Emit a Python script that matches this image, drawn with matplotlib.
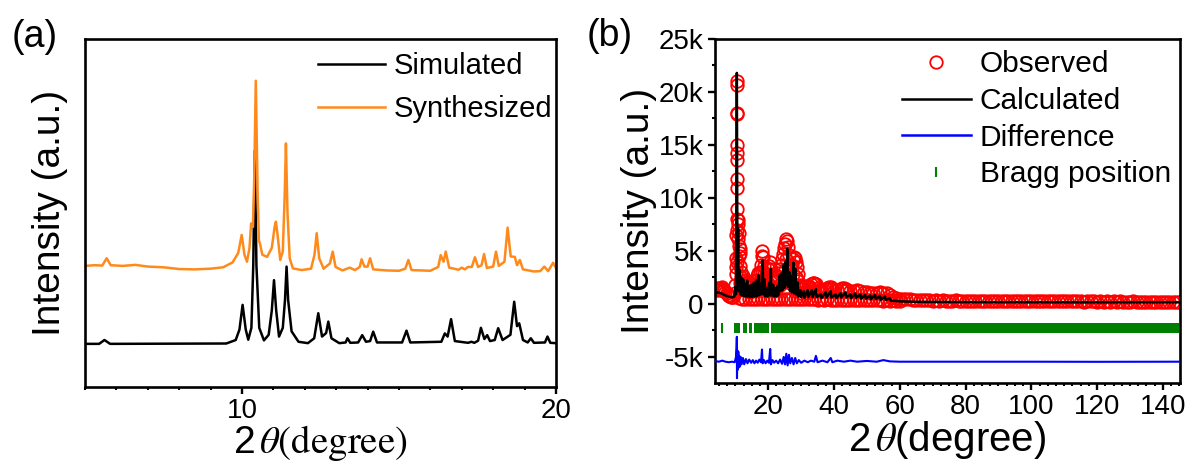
import numpy as np
import matplotlib
matplotlib.use('Agg')
import matplotlib.pyplot as plt
from matplotlib.ticker import MultipleLocator, FuncFormatter
from matplotlib.lines import Line2D

plt.rcParams['font.family'] = ['Liberation Sans', 'DejaVu Sans']
plt.rcParams['mathtext.fontset'] = 'stix'

### (a) PXRD, simulated vs synthesized (arbitrary units)
sim_x = [5.0, 5.45, 5.62, 5.8, 9.5, 9.8, 9.92, 10.02, 10.12, 10.2, 10.3, 10.36, 10.41, 10.46, 10.55,
         10.7, 10.85, 10.95, 11.02, 11.09, 11.18, 11.3, 11.37, 11.42, 11.47, 11.58, 11.8, 12.1, 12.3,
         12.43, 12.55, 12.68, 12.75, 12.85, 13.1, 13.3, 13.36, 13.45, 13.7, 13.83, 13.95, 14.08, 14.18,
         14.3, 15.1, 15.24, 15.36, 16.35, 16.46, 16.55, 16.66, 16.78, 17.2, 17.31, 17.4, 17.52, 17.61,
         17.72, 17.81, 17.9, 18.05, 18.16, 18.3, 18.55, 18.67, 18.76, 18.83, 18.95, 19.1, 19.2, 19.3,
         19.65, 19.73, 19.82, 20.0]
sim_y = [12.4, 12.4, 13.5, 12.4, 12.5, 13.5, 16.5, 23.6, 16.5, 13.6, 17.0, 35.0, 67.9, 35.0, 17.0,
         13.4, 15.0, 22.0, 30.7, 22.0, 14.5, 17.0, 25.0, 34.6, 25.0, 16.0, 13.0, 12.6, 14.0,
         21.2, 14.5, 15.5, 18.8, 14.0, 12.6, 12.8, 14.0, 12.7, 12.8, 14.9, 13.0, 13.2, 15.9,
         12.8, 12.8, 16.2, 12.8, 13.0, 15.4, 14.5, 19.5, 13.2, 12.7, 13.0, 12.7, 13.3, 17.0,
         13.8, 14.9, 13.2, 13.5, 16.9, 13.5, 15.0, 24.5, 17.5, 18.3, 13.5, 12.8, 14.0, 12.7,
         12.8, 14.5, 12.7, 12.6]

syn_x = [5.0, 5.3, 5.55, 5.69, 5.82, 6.2, 6.6, 7.0, 7.5, 8.0, 8.5, 9.0, 9.4, 9.7, 9.88, 9.99, 10.08,
         10.16, 10.24, 10.29, 10.35, 10.39, 10.44, 10.5, 10.54, 10.57, 10.65, 10.8, 10.95, 11.04, 11.08,
         11.13, 11.22, 11.3, 11.36, 11.4, 11.45, 11.52, 11.62, 11.9, 12.2, 12.31, 12.38, 12.46, 12.6,
         12.8, 12.89, 12.98, 13.2, 13.43, 13.6, 13.75, 13.81, 13.9, 14.0, 14.08, 14.18, 14.6, 15.0,
         15.2, 15.3, 15.4, 16.0, 16.25, 16.33, 16.42, 16.49, 16.6, 16.9, 17.0, 17.1, 17.2, 17.32,
         17.42, 17.52, 17.63, 17.71, 17.8, 18.0, 18.09, 18.18, 18.36, 18.46, 18.56, 18.69, 18.76,
         18.85, 18.95, 19.3, 19.5, 19.63, 19.75, 19.91, 20.0]
syn_y = [34.8, 35.0, 34.9, 37.0, 35.0, 34.8, 35.1, 34.6, 34.4, 33.9, 33.8, 34.0, 34.4, 35.8, 38.5, 43.7, 38.0,
         36.0, 40.0, 47.0, 46.0, 60.0, 88.0, 55.0, 42.0, 41.3, 38.0, 37.4, 40.0, 46.0, 47.5,
         44.0, 36.5, 39.0, 55.0, 70.0, 50.0, 37.0, 34.1, 33.6, 34.0, 38.0, 44.2, 37.0, 34.0,
         35.5, 38.9, 34.5, 33.5, 34.3, 33.6, 34.5, 36.7, 34.6, 34.6, 37.0, 33.8, 33.5, 33.4,
         34.0, 36.5, 33.6, 33.4, 34.5, 37.9, 36.0, 38.9, 34.3, 33.7, 34.3, 33.8, 34.5, 34.5,
         37.3, 34.5, 35.0, 38.2, 34.2, 34.6, 38.9, 34.8, 36.0, 45.8, 37.5, 37.4, 35.0,
         36.5, 33.8, 33.2, 33.3, 34.6, 33.3, 35.7, 34.2]

### (b) Rietveld refinement
obs_x = [4.0, 4.3, 4.6, 5.0, 5.4, 5.8, 6.2, 6.6, 7.0, 7.4, 7.8, 8.2, 8.6, 9.0, 9.4, 9.8, 10.0, 10.1,
         10.2, 10.3, 10.35, 10.4, 10.42, 10.44, 10.46, 10.48, 10.5, 10.52, 10.54, 10.56, 10.6, 10.65,
         10.7, 10.8, 10.9, 11.0, 11.1, 11.2, 11.3, 11.4, 11.5, 11.6, 11.8, 12.0, 12.3, 12.6, 13.0,
         13.4, 13.8, 14.2, 14.6, 15.0, 15.4, 15.8, 16.2, 16.6, 17.0, 17.4, 17.8, 18.0, 18.2, 18.4,
         18.6, 18.8, 19.0, 19.4, 19.8, 20.2, 20.6, 20.9, 21.2, 21.6, 22.0, 22.4, 22.8, 23.2, 23.6,
         24.0, 24.3, 24.6, 24.9, 25.2, 25.5, 25.8, 26.0, 26.2, 26.5, 26.8, 27.1, 27.4, 27.7, 28.0,
         28.3, 28.6, 28.9, 29.2, 29.6, 30.0, 30.5, 31.0, 31.5, 32.0, 32.5, 33.0, 33.5, 34.0, 34.5,
         35.0, 35.5, 36.0, 36.5, 37.0, 37.5, 38.0, 38.5, 39.0, 39.5, 40.0, 41.0, 42.0, 42.5, 43.0,
         43.5, 44.0, 45.0, 46.0, 47.0, 48.0, 49.0, 50.0, 51.0, 52.0, 53.0, 54.0, 55.0, 56.0, 57.0,
         58.0, 59.0, 60.0]
obs_y = [1300, 1500, 1450, 1350, 1500, 1600, 1450, 1300, 1150, 1000, 850, 750, 700, 650, 700, 1000, 1800, 2800,
         4300, 6500, 9000, 11800, 14200, 18000, 21000, 20700, 17900, 15000, 13600, 10900, 8000, 7000,
         6100, 7500, 7900, 6700, 5500, 4500, 5200, 4800, 3600, 3000, 2500, 2200, 2600, 2000, 2300,
         1800, 2100, 1900, 1700, 2000, 1800, 2200, 2300, 2600, 2900, 3000, 3700, 4500, 5000, 4400,
         3600, 2900, 2500, 2800, 3300, 3600, 4000, 3300, 2600, 2300, 2100, 2300, 2600, 2900, 3300,
         3700, 4200, 4700, 5300, 5700, 6100, 5900, 5400, 4600, 3800, 3400, 3700, 4200, 4400, 4300,
         4000, 3500, 2800, 2200, 1800, 1600, 1700, 1600, 1700, 1600, 1700, 1900, 2000, 2000, 1900,
         1500, 1300, 1200, 1250, 1300, 1400, 1500, 1600, 1600, 1400, 1250, 1300, 1450, 1550, 1550,
         1450, 1300, 1250, 1200, 1300, 1200, 1150, 1100, 1050, 1000, 1050, 1100, 1050, 1000, 850,
         700, 600, 500]
# lower edge of the observed band and points inside the peak clusters
obs_low_x = list(range(11, 61))
obs_low_y = [520, 500, 480, 500, 470, 490, 460, 480, 470, 450, 470, 460, 480, 450, 470, 440, 460, 450, 430, 450,
             430, 440, 420, 440, 410, 430, 400, 420, 400, 410, 390, 410, 380, 400, 370, 390, 360, 380, 350, 370,
             340, 360, 330, 350, 320, 340, 310, 330, 300, 320]
obs_mid_x = [10.3, 10.6, 11.5, 12.5, 13.5, 14.5, 15.5, 16.5, 17.5, 18.0, 18.5, 19.0, 20.0, 20.7, 21.5, 22.5,
             23.5, 24.5, 25.0, 25.5, 26.0, 26.5, 27.5, 28.3, 29.0, 30.0, 31.5, 33.5]
obs_mid_y = [3500, 4000, 2000, 1300, 1200, 1100, 1300, 1500, 1800, 3000, 2200, 1400, 2000, 2600, 1400, 1300,
             1800, 2500, 3200, 4200, 2800, 2000, 2800, 2500, 1500, 1000, 1000, 1200]
# flat high-angle part, 1 degree scan step from 61 to 145
obs_hi_y = [480, 440, 420, 390, 400, 360, 370, 340, 350, 320,
            340, 310, 330, 300, 320, 310, 330, 300, 320, 290,
            310, 300, 320, 290, 310, 280, 300, 290, 310, 280,
            300, 270, 290, 280, 300, 270, 290, 260, 280, 270,
            290, 260, 280, 250, 270, 260, 280, 250, 270, 240,
            260, 250, 270, 240, 260, 230, 250, 240, 260, 230,
            250, 220, 240, 230, 250, 220, 240, 210, 230, 220,
            240, 210, 230, 200, 220, 210, 230, 200, 220, 200,
            210, 200, 220, 190, 210]
obs_hi_x = np.arange(61, 61 + len(obs_hi_y))

calc_x = [4.0, 5.0, 6.0, 7.0, 8.0, 9.0, 9.7, 10.0, 10.2, 10.45, 10.65, 10.85, 11.0, 11.3, 11.5, 11.8, 12.0,
          12.4, 12.6, 13.0, 13.2, 13.6, 13.8, 14.2, 14.4, 14.9, 15.1, 15.6, 15.8, 16.3, 16.5, 17.0, 17.2,
          17.6, 17.8, 18.3, 18.5, 18.9, 19.1, 19.6, 19.8, 20.3, 20.5, 20.8, 21.0, 21.5, 21.7, 22.2, 22.4,
          22.8, 23.0, 23.5, 23.7, 24.1, 24.3, 24.7, 24.9, 25.3, 25.5, 25.8, 26.0, 26.4, 26.6, 27.0, 27.2,
          27.7, 27.9, 28.3, 28.5, 29.0, 29.2, 29.8, 30.0, 30.8, 31.0, 32.0, 32.2, 33.3, 33.5, 34.5, 34.7,
          36.0, 36.2, 37.5, 37.7, 39.0, 39.2, 40.5, 40.7, 42.0, 42.2, 43.5, 43.7, 45.0, 45.2, 46.5, 46.7,
          48.0, 48.2, 49.5, 49.7, 51.0, 51.2, 52.5, 52.7, 54.0, 54.2, 55.5, 55.7, 57.0, 57.2, 60.0, 65.0,
          80.0, 100.0, 120.0, 145.0]
calc_y = [1050, 1080, 950, 800, 700, 620, 700, 1600, 900, 21800, 1500, 7100, 1200, 3200, 900, 2500, 800,
          2300, 750, 1900, 700, 2200, 700, 1700, 650, 1800, 650, 2000, 700, 2200, 700, 2700, 800,
          1800, 900, 4100, 900, 2300, 700, 1500, 700, 2000, 800, 3300, 800, 1800, 700, 1500, 700,
          1700, 800, 2700, 1200, 2900, 1300, 3700, 1500, 4000, 1800, 5200, 1600, 3000, 1200, 2600, 1100,
          3900, 1000, 3300, 900, 2000, 700, 1300, 650, 1200, 600, 1300, 650, 1300, 650, 1400, 650,
          900, 550, 1100, 600, 1200, 600, 900, 550, 1000, 600, 1100, 600, 900, 550, 1000, 550,
          900, 500, 850, 500, 800, 450, 850, 450, 750, 400, 700, 380, 550, 320, 250, 200,
          170, 160, 150, 150]

diff_x = [4.0, 5.0, 6.0, 7.0, 8.0, 9.0, 9.8, 10.2, 10.35, 10.45, 10.5, 10.6, 10.75, 10.9, 11.05, 11.2,
          11.4, 11.6, 11.9, 12.3, 12.7, 13.2, 13.7, 14.2, 14.8, 15.3, 15.8, 16.3, 16.8, 17.3, 17.8, 18.1,
          18.3, 18.7, 19.2, 19.7, 20.2, 20.6, 20.8, 21.3, 21.8, 22.4, 23.0, 23.6, 24.2, 24.7, 25.1, 25.5,
          25.9, 26.3, 26.7, 27.2, 27.7, 28.2, 28.7, 29.3, 30.0, 31.0, 32.0, 33.0, 34.0, 34.5, 35.0, 36.5,
          38.0, 39.0, 39.5, 41.0, 43.0, 45.0, 47.0, 50.0, 53.0, 55.0, 57.0, 60.0, 80.0, 100.0, 120.0, 145.0]
diff_y = [-5400, -5450, -5350, -5450, -5500, -5450, -5500, -5000, -4200, -3100, -7000, -4400, -6200, -4500, -6000, -4900,
          -5900, -5000, -5700, -5100, -5700, -5200, -5600, -5250, -5550, -5300, -5600, -5350, -5550, -5250, -5500, -4300,
          -5600, -5300, -5600, -5350, -5550, -4250, -5700, -5300, -5550, -5350, -5600, -5250, -5650, -5000, -5700, -4700,
          -5800, -4800, -5600, -5100, -5700, -5100, -5600, -5300, -5550, -5350, -5500, -5350, -5450, -4900, -5500, -5350,
          -5500, -5100, -5500, -5350, -5450, -5350, -5450, -5380, -5450, -5300, -5420, -5450, -5450, -5450, -5460, -5450]

bragg_single = [5.8]
bragg_start = [9.5, 12.45, 14.2, 15.6, 20.7]
bragg_end = [11.55, 13.4, 15.0, 20.3, 145.0]
bragg_level = -2270
bragg_height = 950

fig = plt.figure(figsize=(11.92, 4.61), dpi=100)
ax1 = fig.add_axes([0.0713, 0.1605, 0.3951, 0.7549])
ax2 = fig.add_axes([0.5998, 0.1692, 0.3901, 0.7462])

for ax in (ax1, ax2):
    for s in ax.spines.values():
        s.set_linewidth(1.9)
    ax.tick_params(axis='both', which='major', direction='out', length=5, width=1.7, labelsize=20, pad=3)
    ax.tick_params(axis='both', which='minor', direction='out', length=2.5, width=1.5)

### PANEL (a)
ax1.plot(sim_x, sim_y, color='black', lw=1.8, label='Simulated')
ax1.plot(syn_x, syn_y, color='#FF8A1C', lw=1.8, label='Synthesized')
ax1.set_xlim(5, 20)
ax1.set_ylim(0, 100)
ax1.xaxis.set_major_locator(MultipleLocator(10))
ax1.xaxis.set_minor_locator(MultipleLocator(1))
ax1.set_yticks([])
# sans "2", serif italic theta, Times-like "(degree)" as in the original
ax1.set_xlabel(r'2$\,\theta\mathrm{(degree)}$', fontsize=28, labelpad=-1)
ax1.set_ylabel('Intensity (a.u.)', fontsize=28, labelpad=12)
ax1.legend(loc='upper left', bbox_to_anchor=(0.4947, 0.962), frameon=False, fontsize=21,
           borderpad=0, borderaxespad=0, handlelength=2.3, handletextpad=0.3, labelspacing=0.5)

### PANEL (b)
ax2.plot(obs_x, obs_y, 'o', mfc='none', mec='red', ms=9, mew=1.3, zorder=2)
ax2.plot(obs_low_x, obs_low_y, 'o', mfc='none', mec='red', ms=9, mew=1.3, zorder=2)
ax2.plot(obs_mid_x, obs_mid_y, 'o', mfc='none', mec='red', ms=9, mew=1.3, zorder=2)
ax2.plot(obs_hi_x, obs_hi_y, 'o', mfc='none', mec='red', ms=9, mew=1.3, zorder=2)
ax2.plot(calc_x, calc_y, color='black', lw=1.8, zorder=3)
ax2.plot(diff_x, diff_y, color='#0000FF', lw=1.5, zorder=3)
ax2.plot(bragg_single, [bragg_level] * len(bragg_single), '|', color='green', ms=7, mew=1.5)
ax2.broken_barh([(a, b - a) for a, b in zip(bragg_start, bragg_end)],
                (bragg_level - bragg_height / 2, bragg_height), color='green', lw=0)

ax2.set_xlim(3.8, 145.2)
ax2.set_ylim(-7460, 25000)
ax2.xaxis.set_major_locator(MultipleLocator(20))
ax2.xaxis.set_minor_locator(MultipleLocator(2.5))
ax2.yaxis.set_major_locator(MultipleLocator(5000))
ax2.yaxis.set_minor_locator(MultipleLocator(2500))
ax2.yaxis.set_major_formatter(FuncFormatter(lambda v, p: '0' if v == 0 else '%dk' % round(v / 1000)))
ax2.set_xlabel(r'2$\,\theta$(degree)', fontsize=29, labelpad=-1)
ax2.set_ylabel('Intensity (a.u.)', fontsize=28, labelpad=1)

handles = [Line2D([], [], ls='none', marker='o', mfc='none', mec='red', ms=9, mew=1.3),
           Line2D([], [], color='black', lw=1.8),
           Line2D([], [], color='#0000FF', lw=1.8),
           Line2D([], [], ls='none', marker='|', color='green', ms=7, mew=1.5)]
ax2.legend(handles, ['Observed', 'Calculated', 'Difference', 'Bragg position'], loc='upper left',
           bbox_to_anchor=(0.402, 0.967), frameon=False, fontsize=21.5, borderpad=0, borderaxespad=0,
           handlelength=2.3, handletextpad=0.3, labelspacing=0.29)

fig.text(0.010, 0.958, '(a)', fontsize=27, va='top')
fig.text(0.492, 0.962, '(b)', fontsize=27, va='top')

fig.savefig('out.png', dpi=100)
